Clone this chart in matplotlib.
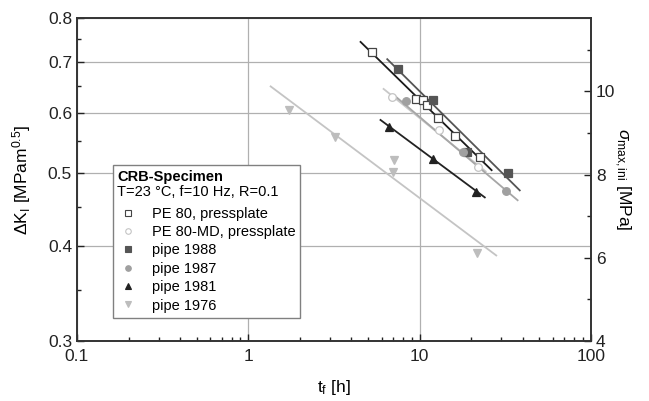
import matplotlib
matplotlib.use("Agg")
import matplotlib.pyplot as plt
from matplotlib.lines import Line2D
from matplotlib.ticker import FixedLocator, NullFormatter

plt.rcParams["font.family"] = ["Liberation Sans", "DejaVu Sans"]
plt.rcParams["mathtext.fontset"] = "custom"
plt.rcParams["mathtext.rm"] = "Liberation Sans"
plt.rcParams["mathtext.it"] = "Liberation Sans:italic"
plt.rcParams["mathtext.bf"] = "Liberation Sans:bold"

# failure time t_f [h] and Delta K_I [MPa m^0.5]
pe80_t = [5.24, 9.57, 10.4, 11.1, 12.8, 16.0, 22.5]
pe80_dk = [0.722, 0.626, 0.623, 0.614, 0.591, 0.559, 0.525]
pe80_fit_t = [4.52, 26.3]
pe80_fit_dk = [0.744, 0.504]

md_t = [6.89, 12.9, 22.0]
md_dk = [0.629, 0.569, 0.509]
md_fit_t = [6.16, 24.3]
md_fit_dk = [0.645, 0.502]

p88_t = [7.44, 11.9, 18.9, 33.0]
p88_dk = [0.686, 0.623, 0.533, 0.500]
p88_fit_t = [6.47, 38.4]
p88_fit_dk = [0.706, 0.474]

p87_t = [8.32, 17.9, 31.8]
p87_dk = [0.622, 0.533, 0.473]
p87_fit_t = [7.14, 37.3]
p87_fit_dk = [0.632, 0.460]

p81_t = [6.61, 12.0, 21.3]
p81_dk = [0.575, 0.522, 0.472]
p81_fit_t = [5.91, 24.0]
p81_fit_dk = [0.587, 0.464]

p76_t = [1.73, 3.20, 7.05, 6.95, 21.5]
p76_dk = [0.605, 0.557, 0.520, 0.501, 0.392]
p76_fit_t = [1.35, 28.0]
p76_fit_dk = [0.650, 0.389]

left_ticks = [0.3, 0.4, 0.5, 0.6, 0.7, 0.8]
left_minor = [0.35, 0.45, 0.55, 0.65, 0.75]
right_ticks = [4, 6, 8, 10]
right_minor = [5, 7, 9, 11]
x_ticks = [0.1, 1, 10, 100]
x_labels = ["0.1", "1", "10", "100"]

series = [
    # t, dK, fit t, fit dK, marker, face, edge, line colour, label
    (pe80_t, pe80_dk, pe80_fit_t, pe80_fit_dk, "s", "white", "#444444", "#1a1a1a", "PE 80, pressplate"),
    (md_t, md_dk, md_fit_t, md_fit_dk, "o", "white", "#c4c4c4", "#c8c8c8", "PE 80-MD, pressplate"),
    (p88_t, p88_dk, p88_fit_t, p88_fit_dk, "s", "#555555", "#555555", "#555555", "pipe 1988"),
    (p87_t, p87_dk, p87_fit_t, p87_fit_dk, "o", "#a0a0a0", "#a0a0a0", "#a6a6a6", "pipe 1987"),
    (p81_t, p81_dk, p81_fit_t, p81_fit_dk, "^", "#222222", "#222222", "#222222", "pipe 1981"),
    (p76_t, p76_dk, p76_fit_t, p76_fit_dk, "v", "#bdbdbd", "#bdbdbd", "#c4c4c4", "pipe 1976"),
]

fig = plt.figure(figsize=(6.49, 4.01), dpi=100)
ax = fig.add_axes([0.1186, 0.1496, 0.7920, 0.8055])
ax.set_xscale("log")
ax.set_yscale("log")
ax.set_xlim(0.1, 100)
ax.set_ylim(0.3, 0.8)

for t, dk, ft, fdk, m, fc, ec, lc, lab in series:
    ax.plot(ft, fdk, color=lc, linewidth=1.3, zorder=3)
for t, dk, ft, fdk, m, fc, ec, lc, lab in series:
    ax.plot(t, dk, linestyle="none", marker=m, markersize=5.5,
            markerfacecolor=fc, markeredgecolor=ec, markeredgewidth=0.9, zorder=4)

ax.yaxis.set_major_locator(FixedLocator(left_ticks))
ax.yaxis.set_minor_locator(FixedLocator(left_minor))
ax.set_yticklabels([str(v) for v in left_ticks])
ax.yaxis.set_minor_formatter(NullFormatter())
ax.set_xticks(x_ticks)
ax.set_xticklabels(x_labels)
ax.xaxis.set_minor_formatter(NullFormatter())

ax.grid(True, which="major", color="#b0b0b0", linewidth=0.9, zorder=0)
ax.set_axisbelow(True)
ax.tick_params(which="both", direction="in", labelsize=12.5, colors="#222222",
               top=False, right=False, width=1.0)
ax.tick_params(which="major", length=5)
ax.tick_params(which="minor", length=3)
ax.tick_params(axis="x", pad=6)
for sp in ax.spines.values():
    sp.set_color("#333333")
    sp.set_linewidth(1.2)

ax.set_xlabel(r"t$_\mathrm{f}$ [h]", fontsize=12.5, labelpad=10)
ax.set_ylabel(r"$\Delta$K$_\mathrm{I}$ [MPam$^{0.5}$]", fontsize=12.5, labelpad=11)

ax2 = ax.twinx()
ax2.set_ylim(4, 11.76)
ax2.yaxis.set_major_locator(FixedLocator(right_ticks))
ax2.yaxis.set_minor_locator(FixedLocator(right_minor))
ax2.yaxis.set_minor_formatter(NullFormatter())
ax2.tick_params(which="both", direction="in", labelsize=12.5, colors="#222222", width=1.0)
ax2.tick_params(which="major", length=5)
ax2.tick_params(which="minor", length=3)
for sp in ax2.spines.values():
    sp.set_color("#333333")
    sp.set_linewidth(1.2)
ax2.set_ylabel(r"$\sigma_\mathrm{max,ini}$ [MPa]", fontsize=12.5, rotation=270, labelpad=12)

handles = [Line2D([], [], linestyle="none"), Line2D([], [], linestyle="none")]
labels = [" ", " "]
for t, dk, ft, fdk, m, fc, ec, lc, lab in series:
    handles.append(Line2D([], [], linestyle="none", marker=m, markersize=4,
                          markerfacecolor=fc, markeredgecolor=ec, markeredgewidth=0.8))
    labels.append(lab)
leg = ax2.legend(handles, labels, loc="upper left", bbox_to_anchor=(0.174, 0.589),
                 bbox_transform=fig.transFigure, fontsize=10.5, frameon=True, fancybox=False,
                 edgecolor="#808080", framealpha=1.0, borderpad=0.35, labelspacing=0.3,
                 handlelength=1.4, handletextpad=0.9, borderaxespad=0)
leg.get_frame().set_linewidth(1.0)
leg.set_zorder(10)

fig.text(0.181, 0.559, "CRB-Specimen", fontsize=10.5, fontweight="bold",
         va="center", ha="left", zorder=11)
fig.text(0.181, 0.521, "T=23 °C, f=10 Hz, R=0.1", fontsize=10.5,
         va="center", ha="left", zorder=11)

fig.savefig("out.png", dpi=100)
